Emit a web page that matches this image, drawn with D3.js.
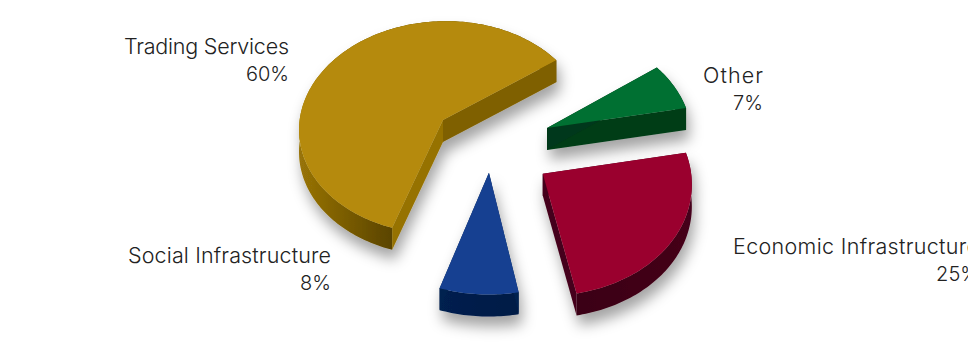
<!DOCTYPE html>
<html>
<head>
<meta charset="utf-8">
<style>html,body{margin:0;padding:0;background:#fff;overflow:hidden}svg{display:block}
text{font-family:"Inter","Lato",sans-serif;font-size:21.5px;fill:#222;font-weight:300}
text.pct{font-size:20px}</style>
<script src="https://cdnjs.cloudflare.com/ajax/libs/d3/7.8.5/d3.min.js"></script>
</head>
<body>
<svg id="c" width="968" height="356"></svg>
<script>
const categories = ["Trading Services","Other","Economic Infrastructure","Social Infrastructure"];
const shares = [60,7,25,8];
const percentLabels = ["60%","7%","25%","8%"];
const topColors = ["#B58A09","#046F31","#9A002F","#174191"];
const startWallColors = ["#967205","#00381A","#45001A","#03204F"];
const endWallColors = ["#7F6006","#003C18","#45001A","#03204F"];
const arcWallFrom = ["#997407","#00381A","#3A0012","#03204F"];
const arcWallTo = ["#5A4400","#00381A","#45001A","#021A45"];

const W=968,H=356;
const svg=d3.select("#c");
const cx=491,cy=143,rx=145.5,ry=109,persp=0.07,depth=22;
const shiftU=[-0.335,0.389,0.349,-0.014], shiftV=[-0.213,-0.14,0.276,0.267];
const labelPos=[[289,54],[763,83],[979,254],[331,263]];
const labelWidths=[165,60,246,203];
const startDeg=198;

const pie=d3.pie().sort(null).startAngle(startDeg*Math.PI/180).endAngle((startDeg+360)*Math.PI/180);
const arcs=pie(shares);
const project=(u,v)=>{const w=1-persp*v;return [cx+rx*u/w,cy+ry*v/w];};
const line=d3.line();
const defs=svg.append("defs");
const f=defs.append("filter").attr("id","sh").attr("x","-30%").attr("y","-30%").attr("width","160%").attr("height","170%");
f.append("feDropShadow").attr("dx",3).attr("dy",10).attr("stdDeviation",7).attr("flood-color","#000").attr("flood-opacity",0.36);

arcs.forEach((a,i)=>{
  const uo=shiftU[i],vo=shiftV[i];
  const apex=project(uo,vo);
  const n=Math.ceil((a.endAngle-a.startAngle)/0.02);
  const rim=d3.range(n+1).map(k=>{const t=a.startAngle+(a.endAngle-a.startAngle)*k/n;return project(uo+Math.sin(t),vo-Math.cos(t));});
  const down=p=>[p[0],p[1]+depth];
  const g=svg.append("g").attr("filter","url(#sh)");
  const id="w"+i;
  const front=rim.filter(p=>p[1]>apex[1]);
  const gr=defs.append("linearGradient").attr("id",id).attr("gradientUnits","userSpaceOnUse")
    .attr("x1",d3.min(front,p=>p[0])).attr("x2",d3.max(front,p=>p[0])).attr("y1",0).attr("y2",0);
  gr.append("stop").attr("offset",0).attr("stop-color",arcWallFrom[i]);
  gr.append("stop").attr("offset",1).attr("stop-color",arcWallTo[i]);
  // outer wall
  g.append("path").attr("d",line(rim.concat(rim.map(down).reverse()))+"Z").attr("fill",`url(#${id})`);
  // radial walls
  const quad=(p,q,c)=>g.append("path").attr("d",line([p,q,down(q),down(p)])+"Z").attr("fill",c);
  quad(apex,rim[n],endWallColors[i]);
  quad(apex,rim[0],startWallColors[i]);
  // top
  g.append("path").attr("d",line([apex].concat(rim))+"Z").attr("fill",topColors[i]);
});
categories.forEach((c,i)=>{
  svg.append("text").attr("x",labelPos[i][0]).attr("y",labelPos[i][1]).attr("text-anchor","end")
    .attr("textLength",labelWidths[i]).attr("lengthAdjust","spacing").text(c);
  svg.append("text").attr("class","pct").attr("x",labelPos[i][0]).attr("y",labelPos[i][1]+27).attr("text-anchor","end").text(percentLabels[i]);
});
</script>
</body>
</html>
